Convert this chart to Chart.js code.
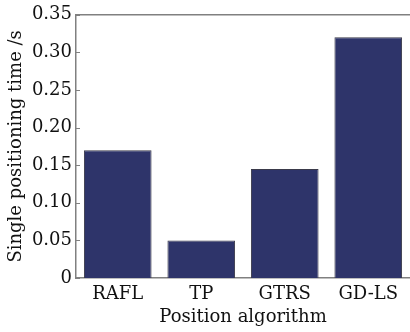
<!DOCTYPE html>
<html>
<head>
<meta charset="utf-8">
<script src="https://cdn.jsdelivr.net/npm/chart.js@4/dist/chart.umd.min.js"></script>
<style>
html,body{margin:0;padding:0;background:#fff;}
#wrap{width:410px;height:332px;position:relative;}
</style>
</head>
<body>
<div id="wrap"><canvas id="c" width="410" height="332"></canvas></div>
<script>
const categories = ["RAFL", "TP", "GTRS", "GD-LS"];
const times = [0.17, 0.05, 0.145, 0.32];
const yTicks = [0, 0.05, 0.10, 0.15, 0.20, 0.25, 0.30, 0.35];

const FONT = "'DejaVu Serif', serif";

const frame = {
  id: 'frame',
  afterDraw(chart) {
    const {ctx, chartArea} = chart;
    const y = chart.scales.y;
    ctx.save();
    ctx.strokeStyle = '#808080';
    ctx.lineWidth = 1.5;
    ctx.beginPath();
    ctx.moveTo(chartArea.left, chartArea.top);
    ctx.lineTo(chartArea.right, chartArea.top);
    ctx.stroke();
    ctx.lineWidth = 1;
    yTicks.forEach(v => {
      const py = Math.round(y.getPixelForValue(v)) + 0.5;
      ctx.beginPath();
      ctx.moveTo(chartArea.left, py);
      ctx.lineTo(chartArea.left + 4, py);
      ctx.stroke();
    });
    ctx.restore();
  }
};

new Chart(document.getElementById('c'), {
  type: 'bar',
  data: {
    labels: categories,
    datasets: [{
      data: times,
      backgroundColor: '#2e346a',
      borderColor: '#3a3a4a',
      borderWidth: 1,
      barPercentage: 0.81,
      categoryPercentage: 1.0
    }]
  },
  options: {
    responsive: false,
    animation: false,
    layout: { padding: { top: 14, right: 0, left: 0, bottom: 0 } },
    plugins: { legend: { display: false }, tooltip: { enabled: false } },
    scales: {
      x: {
        grid: { display: false, drawTicks: false },
        border: { display: true, color: '#808080', width: 1.5 },
        ticks: { color: '#111', font: { family: FONT, size: 18 }, padding: 6 },
        title: { display: true, text: 'Position algorithm', color: '#111', font: { family: FONT, size: 18 }, padding: { top: 0, bottom: 4 } },
        afterFit(s) { s.height = 54; }
      },
      y: {
        min: 0, max: 0.35,
        grid: { display: false, drawTicks: false },
        border: { display: true, color: '#808080', width: 1.5 },
        afterBuildTicks(s) { s.ticks = yTicks.map(v => ({ value: v })); },
        ticks: {
          color: '#111', font: { family: FONT, size: 18 }, padding: 4,
          callback: v => v === 0 ? '0' : v.toFixed(2)
        },
        title: { display: true, text: 'Single positioning time /s', color: '#111', font: { family: FONT, size: 18 }, padding: { top: 6, bottom: 2 } },
        afterFit(s) { s.width = 76; }
      }
    }
  },
  plugins: [frame]
});
</script>
</body>
</html>
